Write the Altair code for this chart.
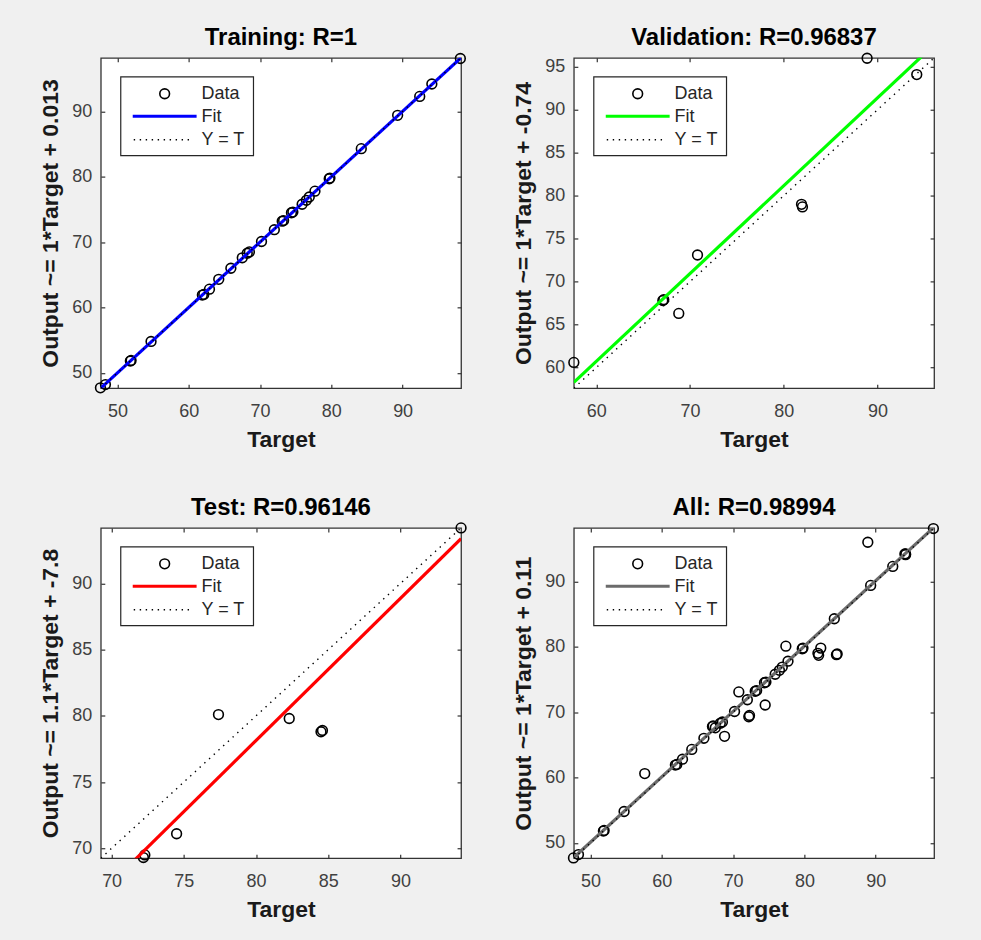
import altair as alt
import pandas as pd

FONT = "Liberation Sans"

# ---------------- data ----------------
train_target = [47.6, 48.3, 51.8, 51.9, 54.7, 61.9, 62.1, 62.9, 64.2, 65.9, 67.5, 68.2, 68.5,
                70.2, 72.0, 73.1, 73.3, 74.4, 74.6, 75.9, 76.5, 76.9, 77.7, 79.7, 79.8,
                84.2, 89.3, 92.4, 94.1, 98.1]
train_output = [47.7, 48.2, 51.8, 51.9, 54.8, 61.9, 62.0, 62.8, 64.3, 66.0, 67.6, 68.3, 68.5,
                70.1, 71.9, 73.2, 73.3, 74.5, 74.6, 75.8, 76.4, 76.9, 77.8, 79.7, 79.8,
                84.3, 89.4, 92.3, 94.2, 98.1]

val_target = [57.6, 67.1, 67.2, 68.8, 70.8, 81.9, 82.0, 88.9, 94.2]
val_output = [60.6, 67.8, 67.9, 66.3, 73.1, 79.0, 78.7, 96.0, 94.1]

test_target = [72.2, 72.3, 74.5, 77.4, 82.3, 84.5, 84.6, 94.2]
test_output = [69.3, 69.5, 71.1, 80.1, 79.8, 78.8, 78.9, 94.2]

all_target = train_target + val_target + test_target
all_output = train_output + val_output + test_output

titles = ["Training: R=1", "Validation: R=0.96837", "Test: R=0.96146", "All: R=0.98994"]
ytitles = ["Output ~= 1*Target + 0.013", "Output ~= 1*Target + -0.74",
           "Output ~= 1.1*Target + -7.8", "Output ~= 1*Target + 0.11"]
fit_slopes = [1.0, 1.022, 1.074, 1.0]
fit_intercepts = [0.013, -0.6, -7.78, 0.11]
fit_colors = ["#0000ff", "#00ff00", "#ff0000", "#6b6b6b"]
domains = [[47.65, 98.2], [57.6, 96.05], [69.25, 94.2], [47.65, 98.2]]
x_ticks = [[50, 60, 70, 80, 90], [60, 70, 80, 90], [70, 75, 80, 85, 90], [50, 60, 70, 80, 90]]
y_ticks = [[50, 60, 70, 80, 90], [60, 65, 70, 75, 80, 85, 90, 95], [70, 75, 80, 85, 90],
           [50, 60, 70, 80, 90]]
legend_labels = ["Data", "Fit", "Y = T"]

W, H = 361, 331


def panel(i, target, output):
    dom = domains[i]
    pts = pd.DataFrame({"Target": target, "Output": output})
    lines = pd.DataFrame({
        "Target": dom,
        "Fit": [fit_slopes[i] * d + fit_intercepts[i] for d in dom],
        "YT": dom,
    })
    xs = alt.Scale(domain=dom, zero=False, nice=False)
    ys = alt.Scale(domain=dom, zero=False, nice=False)

    ax_bottom = alt.Axis(values=x_ticks[i], title="Target", orient="bottom", grid=False,
                         domain=False, offset=-4, tickSize=4, labelPadding=14,
                         titlePadding=8, format="d")
    ax_left = alt.Axis(values=y_ticks[i], title=ytitles[i], orient="left", grid=False,
                       domain=False, offset=-4, tickSize=4, labelPadding=9,
                       titlePadding=9, format="d")
    ax_top = alt.Axis(values=x_ticks[i], title=None, orient="top", grid=False, domain=False,
                      labels=False, offset=-4, tickSize=4)
    ax_right = alt.Axis(values=y_ticks[i], title=None, orient="right", grid=False,
                        domain=False, labels=False, offset=-4, tickSize=4)

    points = alt.Chart(pts).mark_point(shape="circle", filled=False, color="black",
                                       size=95, strokeWidth=1.6, opacity=1).encode(
        x=alt.X("Target:Q", scale=xs, axis=ax_bottom),
        y=alt.Y("Output:Q", scale=ys, axis=ax_left),
    )
    fit = alt.Chart(lines).mark_line(color=fit_colors[i], strokeWidth=3.2, clip=True).encode(
        x=alt.X("Target:Q", scale=xs, axis=ax_top),
        y=alt.Y("Fit:Q", scale=ys, axis=ax_right),
    )
    yt = alt.Chart(lines).mark_line(color="black", strokeWidth=1.4, strokeDash=[1.4, 5],
                                    clip=True).encode(
        x=alt.X("Target:Q", scale=xs, axis=None),
        y=alt.Y("YT:Q", scale=ys, axis=None),
    )

    one = pd.DataFrame({"k": [0]})
    box = alt.Chart(one).mark_rect(fill="white", stroke="#262626", strokeWidth=1.2).encode(
        x=alt.value(20), x2=alt.value(153), y=alt.value(19), y2=alt.value(98))
    leg_pt = alt.Chart(one).mark_point(shape="circle", filled=False, color="black",
                                       size=95, strokeWidth=1.6, opacity=1).encode(
        x=alt.value(64), y=alt.value(36))
    leg_fit = alt.Chart(one).mark_rule(color=fit_colors[i], strokeWidth=3.2).encode(
        x=alt.value(32), x2=alt.value(96), y=alt.value(58.5))
    leg_yt = alt.Chart(one).mark_rule(color="black", strokeWidth=1.4,
                                      strokeDash=[1.4, 4.6]).encode(
        x=alt.value(33), x2=alt.value(91), y=alt.value(82))
    txt = []
    for lab, yy in zip(legend_labels, [36, 59, 82]):
        txt.append(alt.Chart(one).mark_text(align="left", baseline="middle", font=FONT,
                                            fontSize=18, color="#262626").encode(
            x=alt.value(101), y=alt.value(yy), text=alt.value(lab)))

    return alt.layer(points, fit, yt, box, leg_pt, leg_fit, leg_yt, *txt).resolve_axis(
        x="independent", y="independent"
    ).properties(
        width=W, height=H,
        title=alt.TitleParams(titles[i], font=FONT, fontSize=24, fontWeight="bold",
                              color="black", offset=0),
    )


p1 = panel(0, train_target, train_output)
p2 = panel(1, val_target, val_output)
p3 = panel(2, test_target, test_output)
p4 = panel(3, all_target, all_output)

chart = alt.concat(p1, p2, p3, p4, columns=2, bounds="flush",
                   spacing=alt.RowColnumber(row=140, column=113)).properties(
    background="#f0f0f0",
    padding={"left": 39, "top": 24, "right": 38, "bottom": 20},
).configure_view(
    fill="white", stroke="#333333", strokeWidth=1.3
).configure_axis(
    labelFont=FONT, labelFontSize=18, labelColor="#404040", tickColor="#333333",
    tickWidth=1.2, titleFont=FONT, titleFontSize=23, titleFontWeight="bold",
    titleColor="#1a1a1a",
)

chart.save("out.html", embed_options={"renderer": "svg", "actions": False})
